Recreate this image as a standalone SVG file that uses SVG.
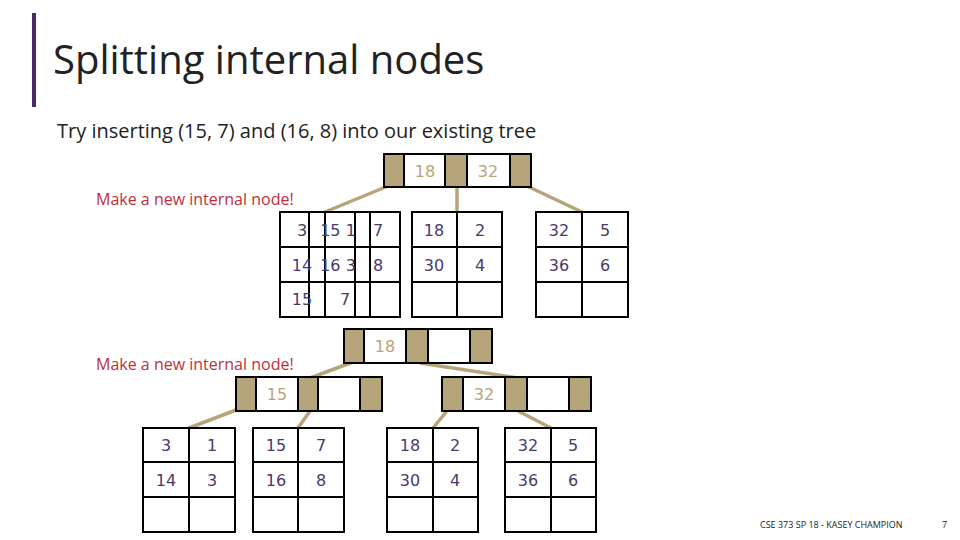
<svg xmlns="http://www.w3.org/2000/svg" width="960" height="540" viewBox="0 0 960 540">
<style>
.k{fill:#b6a57a;stroke:#000;stroke-width:2}
.w{fill:#fff;stroke:#000;stroke-width:2}
.c{fill:none;stroke:#000;stroke-width:2}
.t{font-family:"DejaVu Sans",sans-serif;font-size:16px;fill:#4a3a6a;text-anchor:middle}
.g{font-family:"DejaVu Sans",sans-serif;font-size:16px;fill:#b6a57a;text-anchor:middle}
.r{font-family:"Open Sans",sans-serif;font-size:16px;fill:#c0303a}
.e line{stroke:#b6a57a;stroke-width:3.5}
</style>
<rect width="960" height="540" fill="#fff"/>
<rect x="32" y="13" width="4" height="94" fill="#4b2a6a"/>
<text x="53" y="74" font-family="Open Sans,sans-serif" font-size="40" fill="#222">Splitting internal nodes</text>
<text x="57" y="138" font-family="Open Sans,sans-serif" font-size="20" fill="#222">Try inserting (15, 7) and (16, 8) into our existing tree</text>
<text class="r" x="96" y="205">Make a new internal node!</text>
<text class="r" x="96" y="370">Make a new internal node!</text>
<g class="e" id="connectors">
<line x1="388" y1="186" x2="325" y2="212"/><line x1="457" y1="187" x2="457" y2="212"/><line x1="527" y1="186" x2="582" y2="212"/>
<line x1="353" y1="362" x2="310" y2="378"/><line x1="420" y1="363" x2="518" y2="378"/>
<line x1="236" y1="410" x2="189" y2="428"/><line x1="310" y1="411" x2="298" y2="428"/>
<line x1="447" y1="411" x2="433" y2="428"/><line x1="518" y1="411" x2="551" y2="428"/>
</g>
<g id="root1">
<rect class="k" x="384" y="154" width="20" height="33"/><rect class="w" x="404" y="154" width="41" height="33"/><rect class="k" x="445" y="154" width="22" height="33"/><rect class="w" x="467" y="154" width="43" height="33"/><rect class="k" x="510" y="154" width="21" height="33"/>
<text class="g" x="425" y="177">18</text><text class="g" x="488" y="177">32</text>
</g>
<g id="leafU1">
<rect class="c" x="280" y="212" width="120" height="105"/>
<path class="c" d="M280 247H400M280 282H400M309 212V317M325 212V317M355 212V317M370 212V317"/>
<text class="t" x="302" y="236">3</text><text class="t" x="338" y="236">15 1</text><text class="t" x="378" y="236">7</text>
<text class="t" x="302" y="271">14</text><text class="t" x="338" y="271">16 3</text><text class="t" x="378" y="271">8</text>
<text class="t" x="302" y="305">15</text><text class="t" x="345" y="305">7</text>
</g>
<g id="leafU2">
<rect class="c" x="412" y="212" width="90" height="105"/><path class="c" d="M412 247H502M412 282H502M457 212V317"/>
<text class="t" x="434" y="236">18</text><text class="t" x="480" y="236">2</text><text class="t" x="434" y="271">30</text><text class="t" x="480" y="271">4</text>
</g>
<g id="leafU3">
<rect class="c" x="536" y="212" width="92" height="105"/><path class="c" d="M536 247H628M536 282H628M582 212V317"/>
<text class="t" x="559" y="236">32</text><text class="t" x="605" y="236">5</text><text class="t" x="559" y="271">36</text><text class="t" x="605" y="271">6</text>
</g>
<g id="root2">
<rect class="k" x="344" y="329" width="20" height="34"/><rect class="w" x="364" y="329" width="42" height="34"/><rect class="k" x="406" y="329" width="22" height="34"/><rect class="w" x="428" y="329" width="42" height="34"/><rect class="k" x="470" y="329" width="22" height="34"/>
<text class="g" x="385" y="352">18</text>
</g>
<g id="node15">
<rect class="k" x="236" y="377" width="20" height="34"/><rect class="w" x="256" y="377" width="42" height="34"/><rect class="k" x="298" y="377" width="20" height="34"/><rect class="w" x="318" y="377" width="42" height="34"/><rect class="k" x="360" y="377" width="22" height="34"/>
<text class="g" x="277" y="400">15</text>
</g>
<g id="node32">
<rect class="k" x="442" y="377" width="21" height="34"/><rect class="w" x="463" y="377" width="42" height="34"/><rect class="k" x="505" y="377" width="22" height="34"/><rect class="w" x="527" y="377" width="42" height="34"/><rect class="k" x="569" y="377" width="22" height="34"/>
<text class="g" x="484" y="400">32</text>
</g>
<g id="leafA">
<rect class="c" x="143" y="428" width="92" height="104"/><path class="c" d="M143 462H235M143 497H235M189 428V532"/>
<text class="t" x="166" y="451">3</text><text class="t" x="212" y="451">1</text><text class="t" x="166" y="486">14</text><text class="t" x="212" y="486">3</text>
</g>
<g id="leafB">
<rect class="c" x="253" y="428" width="91" height="104"/><path class="c" d="M253 462H344M253 497H344M298 428V532"/>
<text class="t" x="276" y="451">15</text><text class="t" x="321" y="451">7</text><text class="t" x="276" y="486">16</text><text class="t" x="321" y="486">8</text>
</g>
<g id="leafC">
<rect class="c" x="387" y="428" width="91" height="104"/><path class="c" d="M387 462H478M387 497H478M433 428V532"/>
<text class="t" x="410" y="451">18</text><text class="t" x="455" y="451">2</text><text class="t" x="410" y="486">30</text><text class="t" x="455" y="486">4</text>
</g>
<g id="leafD">
<rect class="c" x="505" y="428" width="91" height="104"/><path class="c" d="M505 462H596M505 497H596M551 428V532"/>
<text class="t" x="528" y="451">32</text><text class="t" x="573" y="451">5</text><text class="t" x="528" y="486">36</text><text class="t" x="573" y="486">6</text>
</g>
<text x="760" y="528" font-family="Open Sans,sans-serif" font-size="9" fill="#222">CSE 373 SP 18 - KASEY CHAMPION</text>
<text x="942" y="528" font-family="Open Sans,sans-serif" font-size="9" fill="#222">7</text>
</svg>
